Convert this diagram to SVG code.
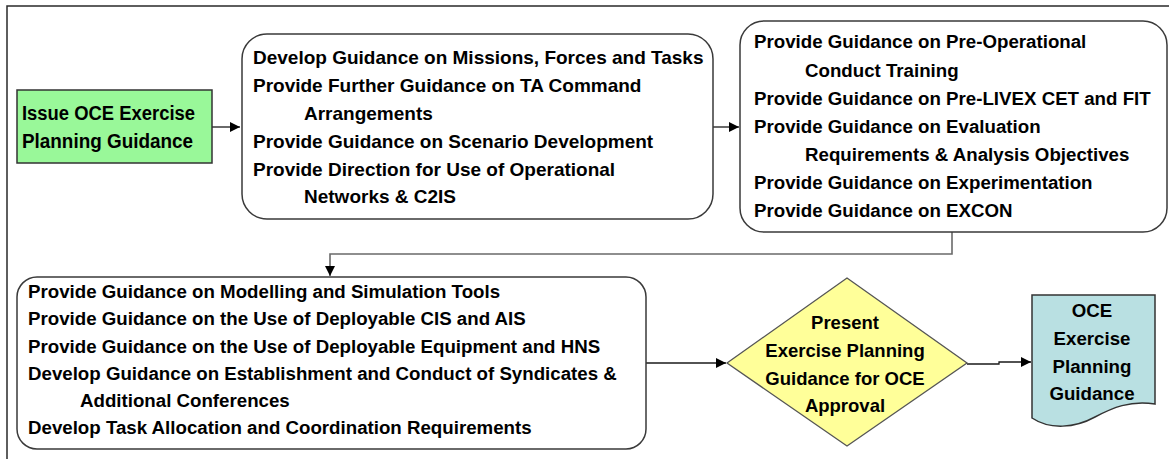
<svg xmlns="http://www.w3.org/2000/svg" width="1169" height="459" viewBox="0 0 1169 459">
<style>
.t{font-family:"Liberation Sans",Arial,sans-serif;font-weight:bold;fill:#000}
.box{fill:#fff;stroke:#3a3a3a;stroke-width:1.5}
.con{fill:none;stroke:#1a1a1a;stroke-width:1.3}
</style>
<defs>
<marker id="arr" markerWidth="11" markerHeight="11" refX="10" refY="5" orient="auto" markerUnits="userSpaceOnUse"><path d="M0,0 L10,5 L0,10 z" fill="#000"/></marker>
</defs>
<rect width="1169" height="459" fill="#fff"/>
<path d="M7,459 V6 H1169" fill="none" stroke="#2a2a2a" stroke-width="1.5"/>

<g id="connectors">
<path class="con" d="M212,127 H240" marker-end="url(#arr)"/>
<path class="con" d="M713,127 H739" marker-end="url(#arr)"/>
<path class="con" d="M952,232 V254 H330 V276" style="stroke:#6a6a6a;stroke-width:1.6" marker-end="url(#arr)"/>
<path class="con" d="M646,363 H726" marker-end="url(#arr)"/>
<path class="con" d="M967,364 H999 V362 H1031" marker-end="url(#arr)"/>
</g>

<g id="issue">
<rect x="17" y="90" width="195" height="73" fill="#99f899" stroke="#333" stroke-width="1.5"/>
<text class="t" font-size="20" x="22" y="120" textLength="173" lengthAdjust="spacingAndGlyphs">Issue OCE Exercise</text>
<text class="t" font-size="20" x="22" y="148" textLength="171" lengthAdjust="spacingAndGlyphs">Planning Guidance</text>
</g>

<g id="box2">
<rect class="box" x="242" y="34" width="471" height="185" rx="25"/>
<text class="t" font-size="19"><tspan x="253" y="64">Develop Guidance on Missions, Forces and Tasks</tspan><tspan x="253" y="92">Provide Further Guidance on TA Command</tspan><tspan x="304" y="120">Arrangements</tspan><tspan x="253" y="148">Provide Guidance on Scenario Development</tspan><tspan x="253" y="176">Provide Direction for Use of Operational</tspan><tspan x="304" y="203">Networks &amp; C2IS</tspan></text>
</g>

<g id="box3">
<rect class="box" x="740" y="21" width="427" height="211" rx="24"/>
<text class="t" font-size="18.7"><tspan x="754" y="48">Provide Guidance on Pre-Operational</tspan><tspan x="805" y="77">Conduct Training</tspan><tspan x="754" y="105">Provide Guidance on Pre-LIVEX CET and FIT</tspan><tspan x="754" y="133">Provide Guidance on Evaluation</tspan><tspan x="805" y="161">Requirements &amp; Analysis Objectives</tspan><tspan x="754" y="189">Provide Guidance on Experimentation</tspan><tspan x="754" y="217">Provide Guidance on EXCON</tspan></text>
</g>

<g id="box4">
<rect class="box" x="17" y="277" width="629" height="172" rx="20"/>
<text class="t" font-size="18.7"><tspan x="28" y="298">Provide Guidance on Modelling and Simulation Tools</tspan><tspan x="28" y="325">Provide Guidance on the Use of Deployable CIS and AIS</tspan><tspan x="28" y="353">Provide Guidance on the Use of Deployable Equipment and HNS</tspan><tspan x="28" y="380">Develop Guidance on Establishment and Conduct of Syndicates &amp;</tspan><tspan x="80" y="407">Additional Conferences</tspan><tspan x="28" y="434">Develop Task Allocation and Coordination Requirements</tspan></text>
</g>

<g id="present">
<path d="M727,363 L847,278 L967,363 L847,446 Z" fill="#ffff99" stroke="#555" stroke-width="1.3"/>
<text class="t" font-size="18.5" text-anchor="middle"><tspan x="845" y="329">Present</tspan><tspan x="845" y="357">Exercise Planning</tspan><tspan x="845" y="385">Guidance for OCE</tspan><tspan x="845" y="412">Approval</tspan></text>
</g>

<g id="doc">
<path d="M1032,295 H1155 V404 C1130,400 1112,408 1095,417 C1075,428 1050,430 1032,418 Z" fill="#b9e0e2" stroke="#333" stroke-width="1.5"/>
<text class="t" font-size="18.7" text-anchor="middle"><tspan x="1092" y="317">OCE</tspan><tspan x="1092" y="345">Exercise</tspan><tspan x="1092" y="373">Planning</tspan><tspan x="1092" y="400">Guidance</tspan></text>
</g>
</svg>
